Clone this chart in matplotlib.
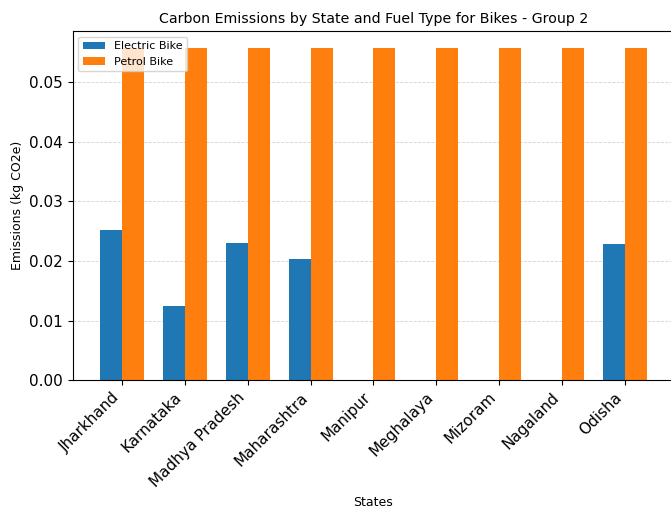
import numpy as np
import matplotlib
matplotlib.use("Agg")
import matplotlib.pyplot as plt

states = ["Jharkhand", "Karnataka", "Madhya Pradesh", "Maharashtra", "Manipur",
          "Meghalaya", "Mizoram", "Nagaland", "Odisha"]
electric_bike = [0.0252, 0.0124, 0.0230, 0.0204, 0.0, 0.0, 0.0, 0.0, 0.0228]
petrol_bike = [0.0558, 0.0558, 0.0558, 0.0558, 0.0558, 0.0558, 0.0558, 0.0558, 0.0558]

fig = plt.figure(figsize=(6.71, 5.09), dpi=100)
ax = fig.add_axes([0.1083, 0.2534, 0.8962, 0.6851])

x = np.arange(len(states))
width = 0.35
ax.bar(x - width / 2, electric_bike, width, label="Electric Bike", color="#1f77b4")
ax.bar(x + width / 2, petrol_bike, width, label="Petrol Bike", color="#ff7f0e")

ax.set_title("Carbon Emissions by State and Fuel Type for Bikes - Group 2", fontsize=10.2)
ax.set_xlabel("States", fontsize=9)
ax.set_ylabel("Emissions (kg CO2e)", fontsize=9)
ax.set_xticks(x)
ax.set_xticklabels(states, rotation=45, ha="right", fontsize=11)
ax.tick_params(axis="y", labelsize=11)
ax.set_yticks([0.0, 0.01, 0.02, 0.03, 0.04, 0.05])
ax.set_yticklabels(["0.00", "0.01", "0.02", "0.03", "0.04", "0.05"])
ax.grid(axis="y", linestyle="--", linewidth=0.6, color="#c8c8c8", alpha=0.8)
ax.set_axisbelow(True)
ax.legend(loc="upper left", fontsize=8)

fig.savefig("out.png", dpi=100)
